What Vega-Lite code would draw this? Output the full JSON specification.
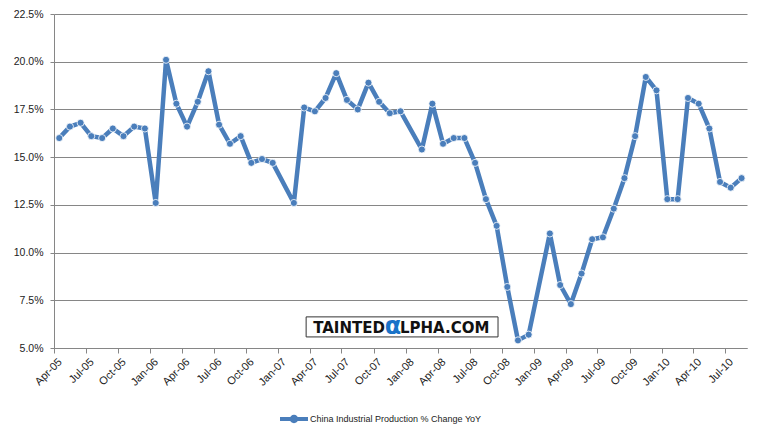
{
  "$schema": "https://vega.github.io/schema/vega-lite/v6.json",
  "width": 693,
  "height": 334,
  "autosize": {"type": "none"},
  "padding": {"left": 54, "top": 14, "right": 22, "bottom": 85},
  "background": "white",
  "config": {
    "view": {"stroke": null},
    "font": "Liberation Sans",
    "axis": {
      "domainColor": "#868686",
      "tickColor": "#868686",
      "gridColor": "#868686",
      "labelColor": "#222222",
      "labelFont": "Liberation Sans",
      "labelFontSize": 10.5,
      "title": null
    }
  },
  "layer": [
    {
      "data": {
        "values": [
          {"date": "2005-04-01", "value": 16.0, "series": "China Industrial Production % Change YoY"},
          {"date": "2005-05-01", "value": 16.6, "series": "China Industrial Production % Change YoY"},
          {"date": "2005-06-01", "value": 16.8, "series": "China Industrial Production % Change YoY"},
          {"date": "2005-07-01", "value": 16.1, "series": "China Industrial Production % Change YoY"},
          {"date": "2005-08-01", "value": 16.0, "series": "China Industrial Production % Change YoY"},
          {"date": "2005-09-01", "value": 16.5, "series": "China Industrial Production % Change YoY"},
          {"date": "2005-10-01", "value": 16.1, "series": "China Industrial Production % Change YoY"},
          {"date": "2005-11-01", "value": 16.6, "series": "China Industrial Production % Change YoY"},
          {"date": "2005-12-01", "value": 16.5, "series": "China Industrial Production % Change YoY"},
          {"date": "2006-01-01", "value": 12.6, "series": "China Industrial Production % Change YoY"},
          {"date": "2006-02-01", "value": 20.1, "series": "China Industrial Production % Change YoY"},
          {"date": "2006-03-01", "value": 17.8, "series": "China Industrial Production % Change YoY"},
          {"date": "2006-04-01", "value": 16.6, "series": "China Industrial Production % Change YoY"},
          {"date": "2006-05-01", "value": 17.9, "series": "China Industrial Production % Change YoY"},
          {"date": "2006-06-01", "value": 19.5, "series": "China Industrial Production % Change YoY"},
          {"date": "2006-07-01", "value": 16.7, "series": "China Industrial Production % Change YoY"},
          {"date": "2006-08-01", "value": 15.7, "series": "China Industrial Production % Change YoY"},
          {"date": "2006-09-01", "value": 16.1, "series": "China Industrial Production % Change YoY"},
          {"date": "2006-10-01", "value": 14.7, "series": "China Industrial Production % Change YoY"},
          {"date": "2006-11-01", "value": 14.9, "series": "China Industrial Production % Change YoY"},
          {"date": "2006-12-01", "value": 14.7, "series": "China Industrial Production % Change YoY"},
          {"date": "2007-02-01", "value": 12.6, "series": "China Industrial Production % Change YoY"},
          {"date": "2007-03-01", "value": 17.6, "series": "China Industrial Production % Change YoY"},
          {"date": "2007-04-01", "value": 17.4, "series": "China Industrial Production % Change YoY"},
          {"date": "2007-05-01", "value": 18.1, "series": "China Industrial Production % Change YoY"},
          {"date": "2007-06-01", "value": 19.4, "series": "China Industrial Production % Change YoY"},
          {"date": "2007-07-01", "value": 18.0, "series": "China Industrial Production % Change YoY"},
          {"date": "2007-08-01", "value": 17.5, "series": "China Industrial Production % Change YoY"},
          {"date": "2007-09-01", "value": 18.9, "series": "China Industrial Production % Change YoY"},
          {"date": "2007-10-01", "value": 17.9, "series": "China Industrial Production % Change YoY"},
          {"date": "2007-11-01", "value": 17.3, "series": "China Industrial Production % Change YoY"},
          {"date": "2007-12-01", "value": 17.4, "series": "China Industrial Production % Change YoY"},
          {"date": "2008-02-01", "value": 15.4, "series": "China Industrial Production % Change YoY"},
          {"date": "2008-03-01", "value": 17.8, "series": "China Industrial Production % Change YoY"},
          {"date": "2008-04-01", "value": 15.7, "series": "China Industrial Production % Change YoY"},
          {"date": "2008-05-01", "value": 16.0, "series": "China Industrial Production % Change YoY"},
          {"date": "2008-06-01", "value": 16.0, "series": "China Industrial Production % Change YoY"},
          {"date": "2008-07-01", "value": 14.7, "series": "China Industrial Production % Change YoY"},
          {"date": "2008-08-01", "value": 12.8, "series": "China Industrial Production % Change YoY"},
          {"date": "2008-09-01", "value": 11.4, "series": "China Industrial Production % Change YoY"},
          {"date": "2008-10-01", "value": 8.2, "series": "China Industrial Production % Change YoY"},
          {"date": "2008-11-01", "value": 5.4, "series": "China Industrial Production % Change YoY"},
          {"date": "2008-12-01", "value": 5.7, "series": "China Industrial Production % Change YoY"},
          {"date": "2009-02-01", "value": 11.0, "series": "China Industrial Production % Change YoY"},
          {"date": "2009-03-01", "value": 8.3, "series": "China Industrial Production % Change YoY"},
          {"date": "2009-04-01", "value": 7.3, "series": "China Industrial Production % Change YoY"},
          {"date": "2009-05-01", "value": 8.9, "series": "China Industrial Production % Change YoY"},
          {"date": "2009-06-01", "value": 10.7, "series": "China Industrial Production % Change YoY"},
          {"date": "2009-07-01", "value": 10.8, "series": "China Industrial Production % Change YoY"},
          {"date": "2009-08-01", "value": 12.3, "series": "China Industrial Production % Change YoY"},
          {"date": "2009-09-01", "value": 13.9, "series": "China Industrial Production % Change YoY"},
          {"date": "2009-10-01", "value": 16.1, "series": "China Industrial Production % Change YoY"},
          {"date": "2009-11-01", "value": 19.2, "series": "China Industrial Production % Change YoY"},
          {"date": "2009-12-01", "value": 18.5, "series": "China Industrial Production % Change YoY"},
          {"date": "2010-01-01", "value": 12.8, "series": "China Industrial Production % Change YoY"},
          {"date": "2010-02-01", "value": 12.8, "series": "China Industrial Production % Change YoY"},
          {"date": "2010-03-01", "value": 18.1, "series": "China Industrial Production % Change YoY"},
          {"date": "2010-04-01", "value": 17.8, "series": "China Industrial Production % Change YoY"},
          {"date": "2010-05-01", "value": 16.5, "series": "China Industrial Production % Change YoY"},
          {"date": "2010-06-01", "value": 13.7, "series": "China Industrial Production % Change YoY"},
          {"date": "2010-07-01", "value": 13.4, "series": "China Industrial Production % Change YoY"},
          {"date": "2010-08-01", "value": 13.9, "series": "China Industrial Production % Change YoY"}
        ]
      },
      "encoding": {
        "x": {
          "field": "date",
          "type": "temporal",
          "timeUnit": "utcyearmonth",
          "bandPosition": 0.5,
          "scale": {
            "type": "utc",
            "nice": false,
            "domain": [
              {"year": 2005, "month": 4, "date": 1, "utc": true},
              {"year": 2010, "month": 9, "date": 1, "utc": true}
            ]
          },
          "axis": {
            "labelExpr": "utcFormat(datum.value, '%b-%y')",
            "tickCount": {"interval": "month", "step": 3},
            "grid": false,
            "tickSize": 5,
            "labelFontSize": 11,
            "labelAngle": -45,
            "labelAlign": "right",
            "labelBaseline": "middle",
            "labelPadding": 7,
            "labelOffset": 6,
            "labelOverlap": false
          }
        },
        "y": {
          "field": "value",
          "type": "quantitative",
          "scale": {"domain": [5, 22.5], "nice": false, "zero": false},
          "axis": {
            "values": [5, 7.5, 10, 12.5, 15, 17.5, 20, 22.5],
            "labelExpr": "format(datum.value, '.1f') + '%'",
            "grid": true,
            "tickSize": 4,
            "labelPadding": 7
          }
        }
      },
      "layer": [
        {
          "mark": {"type": "line", "color": "#4A7EBB", "strokeWidth": 4.5, "strokeJoin": "round", "strokeCap": "round"},
          "encoding": {}
        },
        {
          "mark": {"type": "point", "filled": true, "size": 50, "stroke": "white", "strokeWidth": 0.8, "opacity": 1},
          "encoding": {
            "color": {
              "field": "series",
              "type": "nominal",
              "scale": {"range": ["#4A7EBB"]},
              "legend": {
                "title": null,
                "orient": "none",
                "legendX": 226,
                "legendY": 391,
                "padding": 0,
                "symbolType": "M-1,-0.14H1V0.14H-1Z M0.3,0A0.3,0.3,0,1,1,-0.3,0A0.3,0.3,0,1,1,0.3,0Z",
                "symbolSize": 784,
                "symbolStrokeWidth": 0,
                "labelFontSize": 9,
                "labelColor": "#222222",
                "labelOffset": 2,
                "labelLimit": 0
              }
            }
          }
        }
      ]
    },
    {
      "data": {"values": [{"x0": "2007-03-22", "x1": "2008-09-20", "y0": 5.58, "y1": 6.63}]},
      "mark": {"type": "rect", "fill": "white", "stroke": "#333333", "strokeWidth": 1},
      "encoding": {
        "x": {"field": "x0", "type": "temporal"},
        "x2": {"field": "x1"},
        "y": {"field": "y0", "type": "quantitative"},
        "y2": {"field": "y1"}
      }
    },
    {
      "data": {
        "values": [
          {"x": "2007-11-02", "y": 5.76, "t": "TAINTED", "part": "a"},
          {"x": "2007-11-25", "y": 5.73, "t": "α", "part": "b"},
          {"x": "2007-12-15", "y": 5.76, "t": "LPHA.COM", "part": "c"}
        ]
      },
      "layer": [
        {
          "transform": [{"filter": "datum.part === 'a'"}],
          "mark": {"type": "text", "font": "DejaVu Sans", "fontWeight": "bold", "fontSize": 15, "align": "right", "baseline": "alphabetic", "color": "#111111"},
          "encoding": {"x": {"field": "x", "type": "temporal"}, "y": {"field": "y", "type": "quantitative"}, "text": {"field": "t"}}
        },
        {
          "transform": [{"filter": "datum.part === 'b'"}],
          "mark": {"type": "text", "font": "DejaVu Sans", "fontWeight": "bold", "fontSize": 24, "align": "center", "baseline": "alphabetic", "color": "#1A73C8"},
          "encoding": {"x": {"field": "x", "type": "temporal"}, "y": {"field": "y", "type": "quantitative"}, "text": {"field": "t"}}
        },
        {
          "transform": [{"filter": "datum.part === 'c'"}],
          "mark": {"type": "text", "font": "DejaVu Sans", "fontWeight": "bold", "fontSize": 15, "align": "left", "baseline": "alphabetic", "color": "#111111"},
          "encoding": {"x": {"field": "x", "type": "temporal"}, "y": {"field": "y", "type": "quantitative"}, "text": {"field": "t"}}
        }
      ]
    }
  ]
}
